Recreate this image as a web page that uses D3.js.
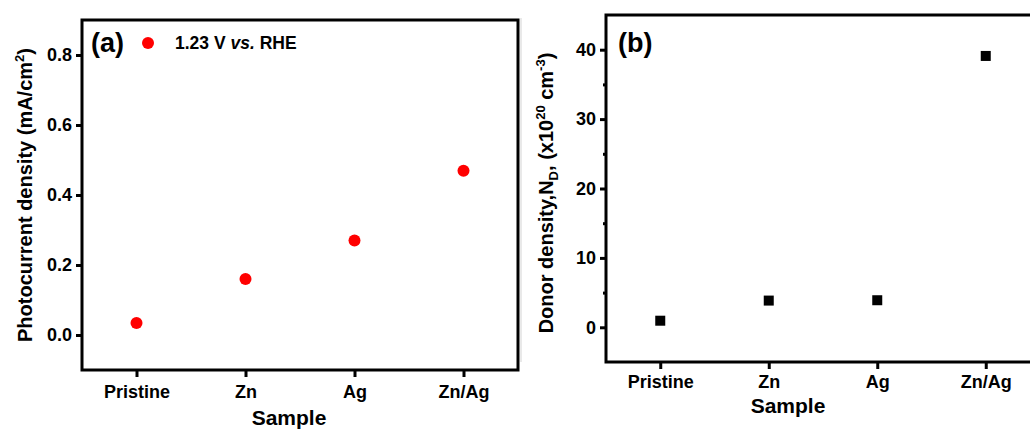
<!DOCTYPE html>
<html>
<head>
<meta charset="utf-8">
<script src="https://cdn.jsdelivr.net/npm/d3@7"></script>
<style>
  body { margin: 0; background: #fff; }
  text { font-family: "Liberation Sans", Arial, sans-serif; font-weight: bold; fill: #000; }
</style>
</head>
<body>
<div id="chart"></div>
<script>
// data
var samples = ["Pristine", "Zn", "Ag", "Zn/Ag"];
var photocurrent = [0.034, 0.16, 0.27, 0.469];
var donorDensity = [0.95, 3.85, 3.9, 39.1];
var photoTicks = [0, 0.2, 0.4, 0.6, 0.8];
var donorTicks = [0, 10, 20, 30, 40];
var donorMinorTicks = [5, 15, 25, 35];

var svg = d3.select("#chart")
  .append("svg")
  .attr("width", 1030)
  .attr("height", 430);

// faint edge left over from the image join
svg.append("line")
  .attr("x1", 521).attr("x2", 521)
  .attr("y1", 18).attr("y2", 362)
  .attr("stroke", "#e2e2e2").attr("stroke-width", 1.5);

function styleAxis(g) {
  g.select(".domain").remove();
  g.selectAll(".tick line").attr("stroke", "#000").attr("stroke-width", 3);
  g.selectAll(".tick text")
    .attr("font-size", 18)
    .attr("font-family", "Liberation Sans, Arial, sans-serif")
    .attr("font-weight", "bold")
    .attr("fill", "#000");
}

// ---------- panel (a) ----------
var a = { left: 82, top: 20, right: 518, bottom: 370 };

var xA = d3.scalePoint().domain(samples).range([a.left, a.right]).padding(0.5);
var yA = d3.scaleLinear().domain([-0.1, 0.9]).range([a.bottom, a.top]);

svg.append("g")
  .attr("transform", `translate(${a.left},0)`)
  .call(d3.axisLeft(yA).tickValues(photoTicks).tickFormat(d3.format(".1f")).tickSize(6).tickPadding(4))
  .call(styleAxis);

svg.append("g")
  .attr("transform", `translate(0,${a.bottom})`)
  .call(d3.axisBottom(xA).tickSize(7).tickPadding(8))
  .call(styleAxis);

svg.append("rect")
  .attr("x", a.left).attr("y", a.top)
  .attr("width", a.right - a.left).attr("height", a.bottom - a.top)
  .attr("fill", "none").attr("stroke", "#000").attr("stroke-width", 3);

svg.selectAll(".dotA")
  .data(samples)
  .enter()
  .append("circle")
  .attr("class", "dotA")
  .attr("cx", d => xA(d))
  .attr("cy", (d, i) => yA(photocurrent[i]))
  .attr("r", 6)
  .attr("fill", "#ff0000");

svg.append("text")
  .attr("x", 91).attr("y", 52)
  .attr("font-size", 27)
  .text("(a)");

svg.append("circle")
  .attr("cx", 148).attr("cy", 43).attr("r", 6)
  .attr("fill", "#ff0000");

var legA = svg.append("text")
  .attr("x", 175).attr("y", 49)
  .attr("font-size", 17.5);
legA.append("tspan").text("1.23 V ");
legA.append("tspan").attr("font-style", "italic").text("vs.");
legA.append("tspan").text(" RHE");

svg.append("text")
  .attr("x", 289).attr("y", 425)
  .attr("text-anchor", "middle")
  .attr("font-size", 21)
  .text("Sample");

var yTitleA = svg.append("text")
  .attr("transform", "translate(32,195) rotate(-90)")
  .attr("text-anchor", "middle")
  .attr("font-size", 20);
yTitleA.append("tspan").text("Photocurrent density (mA/cm");
yTitleA.append("tspan").attr("font-size", 13).attr("dy", -8).text("2");
yTitleA.append("tspan").attr("dy", 8).text(")");

// ---------- panel (b) ----------
var b = { left: 606, top: 15, right: 1040, bottom: 362 };

var xB = d3.scalePoint().domain(samples).range([b.left, b.right]).padding(0.5);
var yB = d3.scaleLinear().domain([-5, 45]).range([b.bottom, b.top]);

svg.append("g")
  .attr("transform", `translate(${b.left},0)`)
  .call(d3.axisLeft(yB).tickValues(donorTicks).tickSize(6).tickPadding(4))
  .call(styleAxis);

svg.append("g")
  .attr("transform", `translate(${b.left},0)`)
  .call(d3.axisLeft(yB).tickValues(donorMinorTicks).tickSize(3).tickFormat(""))
  .call(styleAxis);

svg.append("g")
  .attr("transform", `translate(0,${b.bottom})`)
  .call(d3.axisBottom(xB).tickSize(7).tickPadding(6))
  .call(styleAxis);

svg.append("rect")
  .attr("x", b.left).attr("y", b.top)
  .attr("width", b.right - b.left).attr("height", b.bottom - b.top)
  .attr("fill", "none").attr("stroke", "#000").attr("stroke-width", 3);

var sq = 10;
svg.selectAll(".dotB")
  .data(samples)
  .enter()
  .append("rect")
  .attr("class", "dotB")
  .attr("x", d => xB(d) - sq / 2)
  .attr("y", (d, i) => yB(donorDensity[i]) - sq / 2)
  .attr("width", sq).attr("height", sq)
  .attr("fill", "#000");

svg.append("text")
  .attr("x", 618).attr("y", 52)
  .attr("font-size", 27)
  .text("(b)");

svg.append("text")
  .attr("x", 788).attr("y", 413)
  .attr("text-anchor", "middle")
  .attr("font-size", 21)
  .text("Sample");

var yTitleB = svg.append("text")
  .attr("transform", "translate(553,193) rotate(-90)")
  .attr("text-anchor", "middle")
  .attr("font-size", 20);
yTitleB.append("tspan").text("Donor density,N");
yTitleB.append("tspan").attr("font-size", 13).attr("dy", 5).text("D");
yTitleB.append("tspan").attr("dy", -5).text(", (x10");
yTitleB.append("tspan").attr("font-size", 13).attr("dy", -8).text("20");
yTitleB.append("tspan").attr("dy", 8).text(" cm");
yTitleB.append("tspan").attr("font-size", 13).attr("dy", -8).text("-3");
yTitleB.append("tspan").attr("dy", 8).text(")");
</script>
</body>
</html>
